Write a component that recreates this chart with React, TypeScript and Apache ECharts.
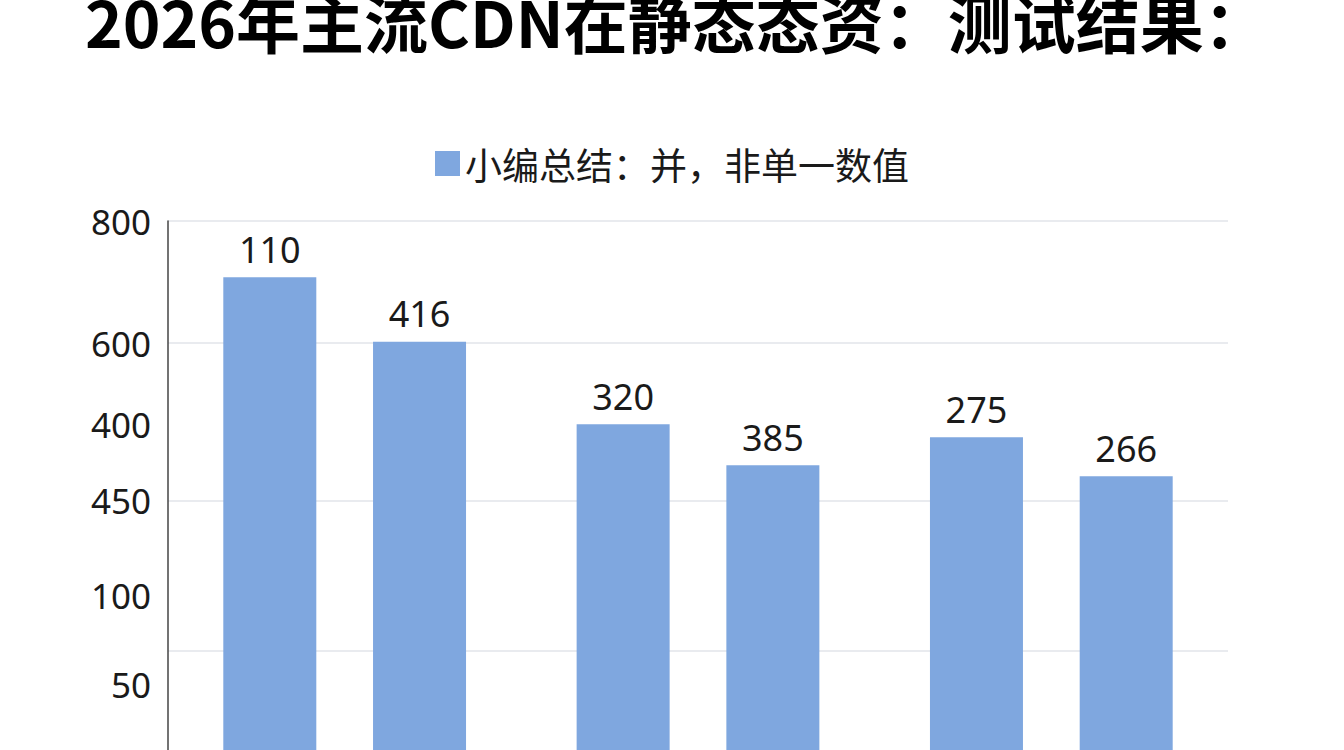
import { useEffect, useRef } from 'react'
import * as echarts from 'echarts'

// 三组、每组两根柱（同一图例）
const CATEGORIES = ['A', 'B', 'C']
const SERIES_NAME = '小编总结：并，非单一数值'
const HEIGHTS_A = [718, 504, 485]
const HEIGHTS_B = [624, 444, 428]
const LABELS_A = [110, 320, 275]
const LABELS_B = [416, 385, 266]

// 纵轴刻度文字（原图刻度本身不成比例）
const TICK_VALUES = [800, 622, 504, 392, 255, 124]
const TICK_TEXTS = ['800', '600', '400', '450', '100', '50']
const GRID_VALUES = [800, 622, 392, 174]

const BAR_COLOR = '#7fa7df'
const TEXT_COLOR = '#1a1a1a'

export default function App() {
  const elRef = useRef<HTMLDivElement>(null)

  useEffect(() => {
    if (!elRef.current) return
    const chart = echarts.init(elRef.current, undefined, { renderer: 'svg' })

    const barSeries = (heights: number[], labels: number[]) => ({
      type: 'bar',
      name: SERIES_NAME,
      data: heights,
      barWidth: 93,
      barGap: '61%',
      itemStyle: { color: BAR_COLOR },
      label: {
        show: true,
        position: 'top',
        distance: 10,
        fontSize: 36,
        fontFamily: 'Noto Sans',
        color: TEXT_COLOR,
        formatter: (p: any) => String(labels[p.dataIndex]),
      },
    })

    chart.setOption({
      animation: false,
      backgroundColor: '#ffffff',
      textStyle: { fontFamily: 'Noto Sans, Noto Sans CJK SC' },
      title: {
        text: '2026年主流CDN在静态态资：测试结果：',
        left: 85,
        top: -12,
        padding: 0,
        textStyle: {
          fontSize: 64,
          fontWeight: 'bold',
          color: '#000',
          fontFamily: 'Noto Sans CJK SC',
        },
      },
      legend: {
        data: [SERIES_NAME],
        left: 'center',
        top: 140,
        itemWidth: 25,
        itemHeight: 25,
        icon: 'rect',
        textStyle: { fontSize: 37, color: TEXT_COLOR, fontFamily: 'Noto Sans CJK SC' },
      },
      // 底部超出可视区，柱子在图片下缘被截断
      grid: { left: 168, right: 116, top: 221, bottom: 20 },
      xAxis: {
        type: 'category',
        data: CATEGORIES,
        axisLine: { show: true, lineStyle: { color: '#444', width: 1.5 } },
        axisTick: { show: false },
        axisLabel: { show: false },
      },
      yAxis: {
        type: 'value',
        min: 0,
        max: 800,
        axisLine: { show: true, lineStyle: { color: '#444', width: 1.5 } },
        axisTick: { show: false, customValues: GRID_VALUES },
        splitLine: { show: true, lineStyle: { color: '#e2e5ea', width: 1.5 } },
        axisLabel: {
          customValues: TICK_VALUES,
          margin: 17,
          fontSize: 35,
          color: TEXT_COLOR,
          fontFamily: 'Noto Sans',
          formatter: (v: number) => TICK_TEXTS[TICK_VALUES.indexOf(v)] ?? '',
        },
      },
      series: [barSeries(HEIGHTS_A, LABELS_A), barSeries(HEIGHTS_B, LABELS_B)],
    })

    return () => chart.dispose()
  }, [])

  return (
    <div
      style={{
        position: 'fixed',
        left: 0,
        top: 0,
        width: '100vw',
        height: '100vh',
        overflow: 'hidden',
        background: '#fff',
      }}
    >
      <div ref={elRef} style={{ width: 1344, height: 790 }} />
    </div>
  )
}
